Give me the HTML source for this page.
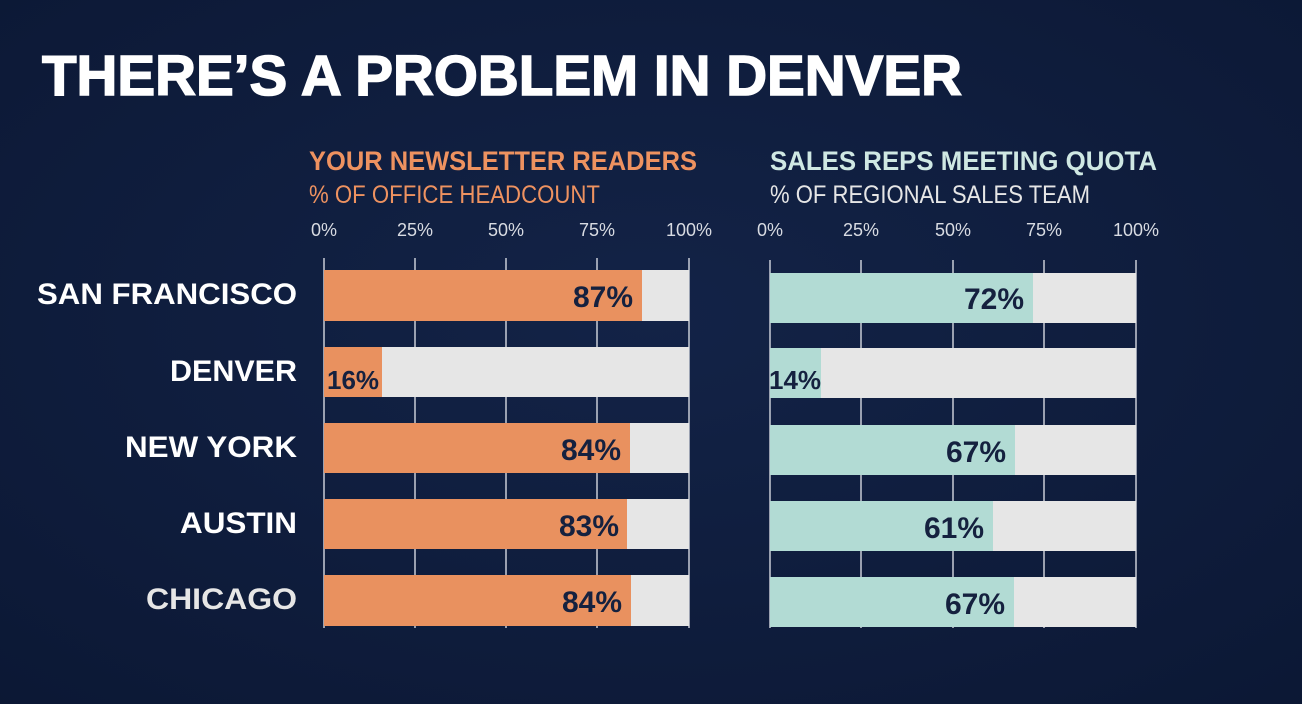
<!DOCTYPE html>
<html><head><style>
html,body{margin:0;padding:0;background:#0e1c3b;}
svg{display:block}
</style></head><body>
<svg width="1302" height="704" viewBox="0 0 1302 704" xmlns="http://www.w3.org/2000/svg">
<defs>
<radialGradient id="bg" cx="0.5" cy="0.45" r="0.8">
<stop offset="0" stop-color="#132347"/><stop offset="1" stop-color="#0b1733"/>
</radialGradient>
</defs>
<rect width="1302" height="704" fill="url(#bg)"/>
<g font-family="Liberation Sans, sans-serif">
<text x="42" y="95" fill="#ffffff" font-size="57" font-weight="bold" stroke="#ffffff" stroke-width="1.5" textLength="920" lengthAdjust="spacingAndGlyphs">THERE’S A PROBLEM IN DENVER</text>

<text x="309" y="170" fill="#ee9260" font-size="27" font-weight="bold" textLength="388" lengthAdjust="spacingAndGlyphs">YOUR NEWSLETTER READERS</text>
<text x="309" y="203" fill="#ee9260" font-size="25" textLength="291" lengthAdjust="spacingAndGlyphs">% OF OFFICE HEADCOUNT</text>
<text x="770" y="170" fill="#cfe8e3" font-size="27" font-weight="bold" textLength="387" lengthAdjust="spacingAndGlyphs">SALES REPS MEETING QUOTA</text>
<text x="770" y="203" fill="#e6e6e6" font-size="25" textLength="320" lengthAdjust="spacingAndGlyphs">% OF REGIONAL SALES TEAM</text>

<g fill="#d8dbe2" font-size="18" text-anchor="middle">
<text x="324" y="236">0%</text><text x="415" y="236">25%</text><text x="506" y="236">50%</text><text x="597" y="236">75%</text><text x="689" y="236">100%</text>
<text x="770" y="236">0%</text><text x="861" y="236">25%</text><text x="953" y="236">50%</text><text x="1044" y="236">75%</text><text x="1136" y="236">100%</text>
</g>

<g stroke="#c8ccd6" stroke-width="1.5">
<line x1="324" y1="258" x2="324" y2="628"/><line x1="415" y1="258" x2="415" y2="628"/><line x1="506" y1="258" x2="506" y2="628"/><line x1="597" y1="258" x2="597" y2="628"/><line x1="689" y1="258" x2="689" y2="628"/>
<line x1="770" y1="260" x2="770" y2="628"/><line x1="861" y1="260" x2="861" y2="628"/><line x1="953" y1="260" x2="953" y2="628"/><line x1="1044" y1="260" x2="1044" y2="628"/><line x1="1136" y1="260" x2="1136" y2="628"/>
</g>

<g>
<rect x="324" y="270" width="365" height="51" fill="#e6e6e6"/><rect x="324" y="270" width="318" height="51" fill="#e9915f"/>
<rect x="324" y="347" width="365" height="50" fill="#e6e6e6"/><rect x="324" y="347" width="58" height="50" fill="#e9915f"/>
<rect x="324" y="423" width="365" height="50" fill="#e6e6e6"/><rect x="324" y="423" width="306" height="50" fill="#e9915f"/>
<rect x="324" y="499" width="365" height="50" fill="#e6e6e6"/><rect x="324" y="499" width="303" height="50" fill="#e9915f"/>
<rect x="324" y="575" width="365" height="51" fill="#e6e6e6"/><rect x="324" y="575" width="307" height="51" fill="#e9915f"/>
</g>
<g>
<rect x="770" y="273" width="366" height="50" fill="#e6e6e6"/><rect x="770" y="273" width="263" height="50" fill="#b2dbd4"/>
<rect x="770" y="348" width="366" height="50" fill="#e6e6e6"/><rect x="770" y="348" width="51" height="50" fill="#b2dbd4"/>
<rect x="770" y="425" width="366" height="50" fill="#e6e6e6"/><rect x="770" y="425" width="245" height="50" fill="#b2dbd4"/>
<rect x="770" y="501" width="366" height="50" fill="#e6e6e6"/><rect x="770" y="501" width="223" height="50" fill="#b2dbd4"/>
<rect x="770" y="577" width="366" height="50" fill="#e6e6e6"/><rect x="770" y="577" width="244" height="50" fill="#b2dbd4"/>
</g>

<g fill="#15213f" font-size="30" font-weight="bold">
<text x="633" y="307" text-anchor="end">87%</text>
<text x="327" y="389" font-size="26">16%</text>
<text x="621" y="460" text-anchor="end">84%</text>
<text x="619" y="536" text-anchor="end">83%</text>
<text x="622" y="612" text-anchor="end">84%</text>
<text x="1024" y="309" text-anchor="end">72%</text>
<text x="769" y="389" font-size="26">14%</text>
<text x="1006" y="462" text-anchor="end">67%</text>
<text x="984" y="538" text-anchor="end">61%</text>
<text x="1005" y="614" text-anchor="end">67%</text>
</g>

<g fill="#ffffff" font-size="30" font-weight="bold" text-anchor="end">
<text x="297" y="304" textLength="260" lengthAdjust="spacingAndGlyphs">SAN FRANCISCO</text>
<text x="297" y="381" textLength="127" lengthAdjust="spacingAndGlyphs">DENVER</text>
<text x="297" y="457" textLength="172" lengthAdjust="spacingAndGlyphs">NEW YORK</text>
<text x="297" y="533" textLength="117" lengthAdjust="spacingAndGlyphs">AUSTIN</text>
<text x="297" y="609" fill="#e6e6e6" textLength="151" lengthAdjust="spacingAndGlyphs">CHICAGO</text>
</g>
</g>
</svg>
</body></html>
